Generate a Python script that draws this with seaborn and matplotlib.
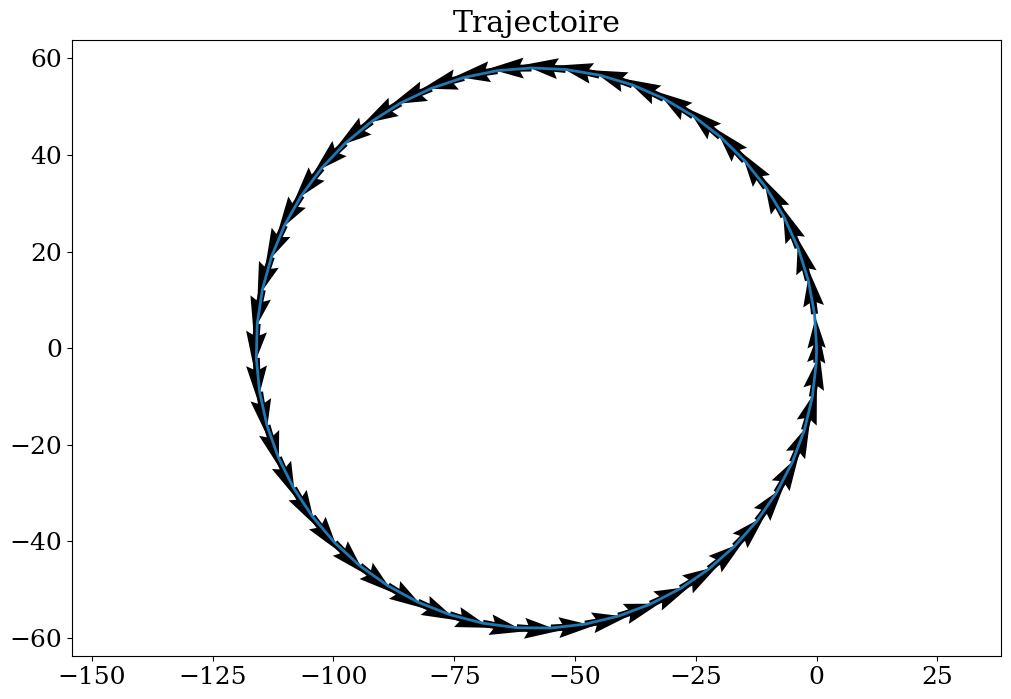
import numpy as np
import matplotlib
matplotlib.use("Agg")
import matplotlib.pyplot as plt
import seaborn as sns

# trajectory points (counter-clockwise, start at origin)
traj_x = [0.0, -0.43, -1.72, -3.85, -6.79, -10.49, -14.90, -19.95, -25.57, -31.67,
          -38.16, -44.95, -51.94, -59.01, -66.07, -73.01, -79.73, -86.12, -92.09, -97.56,
          -102.43, -106.64, -110.13, -112.84, -114.73, -115.78, -115.97, -115.29, -113.76, -111.39,
          -108.23, -104.32, -99.72, -94.50, -88.73, -82.51, -75.92, -69.07, -62.05, -54.97,
          -47.93, -41.04, -34.41, -28.13, -22.29, -16.99, -12.30, -8.28, -5.02, -2.53,
          -0.88, -0.08]
traj_y = [0.0, 7.07, 14.03, 20.79, 27.23, 33.27, 38.81, 43.77, 48.08, 51.68,
          54.50, 56.51, 57.68, 57.99, 57.44, 56.02, 53.78, 50.73, 46.92, 42.42,
          37.28, 31.59, 25.43, 18.88, 12.06, 5.06, -2.02, -9.07, -15.99, -22.66,
          -29.00, -34.90, -40.29, -45.07, -49.18, -52.57, -55.16, -56.93, -57.86, -57.92,
          -57.12, -55.47, -52.98, -49.72, -45.70, -41.01, -35.71, -29.87, -23.59, -16.96,
          -10.07, -3.03]

title = "Trajectoire"

plt.rcParams["font.family"] = "DejaVu Serif"
plt.rcParams["font.size"] = 18

x = np.array(traj_x)
y = np.array(traj_y)
# velocity direction from neighbouring points (closed orbit)
u = (np.roll(x, -1) - np.roll(x, 1)) / 2
v = (np.roll(y, -1) - np.roll(y, 1)) / 2

fig = plt.figure(figsize=(10.12, 6.99), dpi=100)
ax = fig.add_axes([0.0711, 0.0615, 0.918, 0.8813])

ax.quiver(x, y, u, v, angles="xy", scale_units="xy", scale=0.8,
          color="black", zorder=2)

line_x = np.append(x, x[0])
line_y = np.append(y, y[0])
sns.lineplot(x=line_x, y=line_y, sort=False, estimator=None,
             color="#1f77b4", linewidth=2, ax=ax, zorder=3)

ax.set_aspect("equal", adjustable="datalim")
ax.set_title(title, fontsize=21.6)
ax.tick_params(labelsize=18)
ax.set_xlabel("")
ax.set_ylabel("")

fig.savefig("out.png", dpi=100)
